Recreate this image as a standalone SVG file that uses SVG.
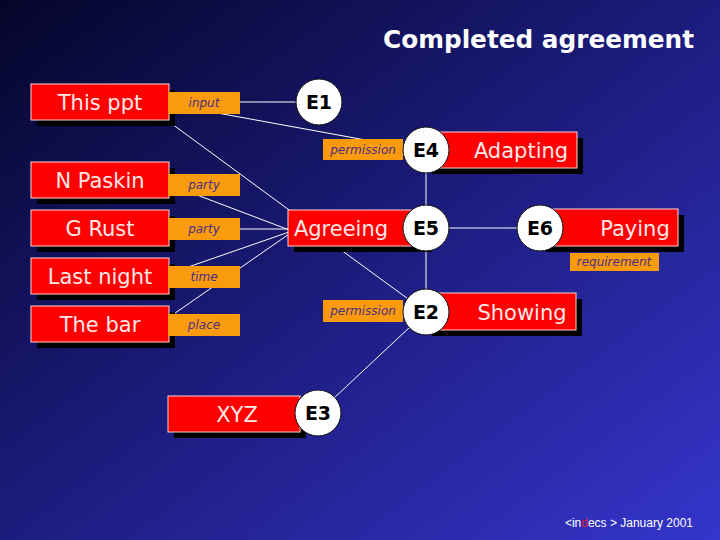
<svg xmlns="http://www.w3.org/2000/svg" width="720" height="540" viewBox="0 0 720 540">
<defs>
<linearGradient id="bg" x1="0" y1="0" x2="1" y2="1">
<stop offset="0" stop-color="#05052a"/>
<stop offset="0.5" stop-color="#1c1c7e"/>
<stop offset="1" stop-color="#3535cc"/>
</linearGradient>
<style>
.shadow{fill:#000}
.box{fill:#ff0000;stroke:#ffd6d6;stroke-width:1}
.btxt{font-family:"DejaVu Sans",Verdana,sans-serif;font-size:21px;fill:#ffe8e8;text-anchor:middle}
.lab{fill:#f99b0c}
.ltxt{font-family:"DejaVu Sans",Verdana,sans-serif;font-size:12px;font-style:italic;fill:#4b2e83;text-anchor:middle}
.ev{fill:#fff;stroke:#111;stroke-width:1}
.etxt{font-family:"DejaVu Sans",Verdana,sans-serif;font-size:19px;font-weight:bold;fill:#000;text-anchor:middle}
.conn line{stroke:#fff;stroke-width:1}
</style>
</defs>
<rect width="720" height="540" fill="url(#bg)"/>
<text x="694" y="48" font-family="'DejaVu Sans',Verdana,sans-serif" font-size="25" font-weight="bold" fill="#fff" text-anchor="end" textLength="311" lengthAdjust="spacingAndGlyphs">Completed agreement</text>

<g id="connectors" class="conn">
<line x1="240" y1="102" x2="300" y2="102"/>
<line x1="168" y1="104" x2="426" y2="151"/>
<line x1="168" y1="121" x2="300" y2="218"/>
<line x1="168" y1="184" x2="292" y2="231"/>
<line x1="168" y1="229" x2="292" y2="229"/>
<line x1="168" y1="274" x2="292" y2="231"/>
<line x1="168" y1="318" x2="292" y2="232"/>
<line x1="311" y1="228" x2="426" y2="312"/>
<line x1="318" y1="413" x2="426" y2="312"/>
<line x1="426" y1="150" x2="426" y2="312"/>
<line x1="426" y1="228" x2="540" y2="228"/>
</g>

<g id="this-ppt">
<rect class="shadow" x="37" y="90" width="138" height="36"/>
<rect class="box" x="31" y="84" width="138" height="36"/>
<text class="btxt" x="100" y="110">This ppt</text>
<rect class="lab" x="168" y="92" width="72" height="22"/>
<text class="ltxt" x="204" y="107">input</text>
</g>
<g id="n-paskin">
<rect class="shadow" x="37" y="168" width="138" height="36"/>
<rect class="box" x="31" y="162" width="138" height="36"/>
<text class="btxt" x="100" y="188">N Paskin</text>
<rect class="lab" x="168" y="174" width="72" height="22"/>
<text class="ltxt" x="204" y="189">party</text>
</g>
<g id="g-rust">
<rect class="shadow" x="37" y="216" width="138" height="36"/>
<rect class="box" x="31" y="210" width="138" height="36"/>
<text class="btxt" x="100" y="236">G Rust</text>
<rect class="lab" x="168" y="218" width="72" height="22"/>
<text class="ltxt" x="204" y="233">party</text>
</g>
<g id="last-night">
<rect class="shadow" x="37" y="264" width="138" height="36"/>
<rect class="box" x="31" y="258" width="138" height="36"/>
<text class="btxt" x="100" y="284">Last night</text>
<rect class="lab" x="168" y="266" width="72" height="22"/>
<text class="ltxt" x="204" y="281">time</text>
</g>
<g id="the-bar">
<rect class="shadow" x="37" y="312" width="138" height="36"/>
<rect class="box" x="31" y="306" width="138" height="36"/>
<text class="btxt" x="100" y="332">The bar</text>
<rect class="lab" x="168" y="314" width="72" height="22"/>
<text class="ltxt" x="204" y="329">place</text>
</g>

<g id="e1">
<circle class="ev" cx="319" cy="102" r="23"/>
<text class="etxt" x="319" y="109">E1</text>
</g>
<g id="e4">
<rect class="shadow" x="432" y="138" width="151" height="36"/>
<rect class="box" x="426" y="132" width="151" height="36"/>
<text class="btxt" x="521" y="158">Adapting</text>
<rect class="lab" x="323" y="139" width="80" height="21"/>
<text class="ltxt" x="363" y="154">permission</text>
<circle class="ev" cx="426" cy="150" r="23"/>
<text class="etxt" x="426" y="157">E4</text>
</g>
<g id="e5">
<rect class="shadow" x="294" y="216" width="138" height="36"/>
<rect class="box" x="288" y="210" width="138" height="36"/>
<text class="btxt" x="341" y="236">Agreeing</text>
<circle class="ev" cx="426" cy="228" r="23"/>
<text class="etxt" x="426" y="235">E5</text>
</g>
<g id="e6">
<rect class="shadow" x="546" y="215" width="138" height="37"/>
<rect class="box" x="540" y="209" width="138" height="37"/>
<text class="btxt" x="635" y="236">Paying</text>
<rect class="lab" x="570" y="253" width="89" height="18"/>
<text class="ltxt" x="614" y="266">requirement</text>
<circle class="ev" cx="540" cy="228" r="23"/>
<text class="etxt" x="540" y="235">E6</text>
</g>
<g id="e2">
<rect class="shadow" x="432" y="299" width="150" height="37"/>
<rect class="box" x="426" y="293" width="150" height="37"/>
<text class="btxt" x="522" y="320">Showing</text>
<rect class="lab" x="323" y="300" width="80" height="22"/>
<text class="ltxt" x="363" y="315">permission</text>
<circle class="ev" cx="426" cy="312" r="23"/>
<text class="etxt" x="426" y="319">E2</text>
</g>
<g id="e3">
<rect class="shadow" x="174" y="402" width="132" height="36"/>
<rect class="box" x="168" y="396" width="132" height="36"/>
<text class="btxt" x="237" y="422">XYZ</text>
<circle class="ev" cx="318" cy="413" r="23"/>
<text class="etxt" x="318" y="420">E3</text>
</g>

<text x="693" y="527" font-family="'Liberation Sans',Arial,sans-serif" font-size="12" fill="#fff" text-anchor="end">&lt;in<tspan fill="#e0202a">d</tspan>ecs &gt; January 2001</text>
</svg>
